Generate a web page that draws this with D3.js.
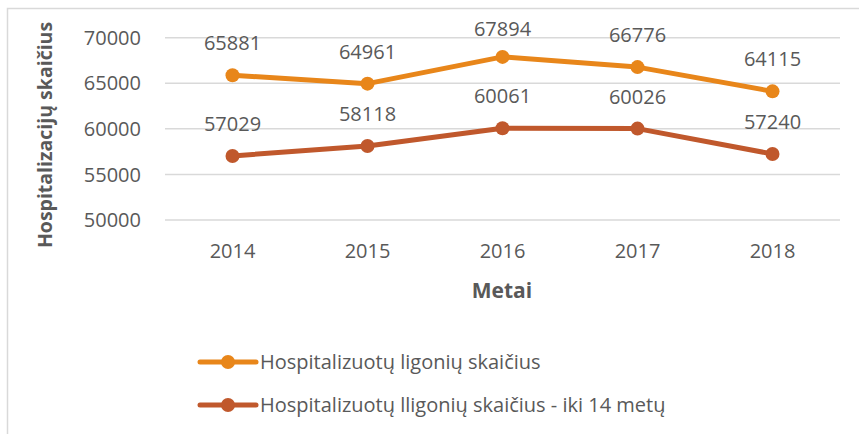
<!DOCTYPE html>
<html lang="en">
<head>
  <meta charset="UTF-8">
  <title>Hospitalizacijų skaičius</title>
  <script src="https://d3js.org/d3.v7.min.js"></script>
  <style>
    body {
      margin: 0;
      background-color: #ffffff;
      font-family: "Open Sans", Arial, sans-serif;
    }
    svg text {
      fill: #595959;
    }
  </style>
</head>
<body>
  <div id="chart"></div>

  <script>
    const years = ["2014", "2015", "2016", "2017", "2018"];
    const hospitalized = [65881, 64961, 67894, 66776, 64115];
    const hospitalizedChildren = [57029, 58118, 60061, 60026, 57240];
    const yTicks = [50000, 55000, 60000, 65000, 70000];
    const seriesNames = ["Hospitalizuotų ligonių skaičius", "Hospitalizuotų lligonių skaičius - iki 14 metų"];
    const seriesColors = ["#E8861A", "#C0582C"];

    const width = 859, height = 434;

    const svg = d3.select("#chart")
      .append("svg")
      .attr("width", width)
      .attr("height", height);

    // chart frame (right and bottom edges are cut off in the original)
    svg.append("rect")
      .attr("x", 7.5)
      .attr("y", 8.5)
      .attr("width", 1000)
      .attr("height", 1000)
      .attr("fill", "none")
      .attr("stroke", "#d9d9d9")
      .attr("stroke-width", 1.5);

    const x = d3.scalePoint().domain(years).range([165, 840]).padding(0.5);
    const y = d3.scaleLinear().domain([50000, 70000]).range([220, 37.7]);

    // gridlines
    svg.append("g")
      .selectAll("line")
      .data(yTicks)
      .enter()
      .append("line")
      .attr("x1", 165)
      .attr("x2", 840)
      .attr("y1", d => y(d))
      .attr("y2", d => y(d))
      .attr("stroke", "#d9d9d9")
      .attr("stroke-width", 1.5);

    // y tick labels
    svg.append("g")
      .selectAll("text")
      .data(yTicks)
      .enter()
      .append("text")
      .attr("x", 141)
      .attr("y", d => y(d))
      .attr("dy", "0.36em")
      .attr("text-anchor", "end")
      .style("font-size", "20px")
      .text(d => d);

    // x tick labels
    svg.append("g")
      .selectAll("text")
      .data(years)
      .enter()
      .append("text")
      .attr("x", d => x(d))
      .attr("y", 258)
      .attr("text-anchor", "middle")
      .style("font-size", "20px")
      .text(d => d);

    // axis titles
    svg.append("text")
      .attr("transform", "translate(52,135) rotate(-90)")
      .attr("text-anchor", "middle")
      .style("font-size", "19.5px")
      .style("font-weight", "bold")
      .text("Hospitalizacijų skaičius");

    svg.append("text")
      .attr("x", 502)
      .attr("y", 298)
      .attr("text-anchor", "middle")
      .style("font-size", "21px")
      .style("font-weight", "bold")
      .text("Metai");

    const line = d3.line()
      .x((d, i) => x(years[i]))
      .y(d => y(d));

    [hospitalized, hospitalizedChildren].forEach((values, s) => {
      const g = svg.append("g");
      g.append("path")
        .datum(values)
        .attr("d", line)
        .attr("fill", "none")
        .attr("stroke", seriesColors[s])
        .attr("stroke-width", 5)
        .attr("stroke-linejoin", "round");

      g.selectAll("circle")
        .data(values)
        .enter()
        .append("circle")
        .attr("cx", (d, i) => x(years[i]))
        .attr("cy", d => y(d))
        .attr("r", 7)
        .attr("fill", seriesColors[s]);

      g.selectAll("text")
        .data(values)
        .enter()
        .append("text")
        .attr("x", (d, i) => x(years[i]))
        .attr("y", d => Math.max(y(d) - 25, 36))
        .attr("text-anchor", "middle")
        .style("font-size", "20px")
        .text(d => d);
    });

    // legend
    const legend = svg.append("g");
    seriesNames.forEach((name, i) => {
      const ly = 362 + i * 43;
      legend.append("line")
        .attr("x1", 200)
        .attr("x2", 256)
        .attr("y1", ly)
        .attr("y2", ly)
        .attr("stroke", seriesColors[i])
        .attr("stroke-width", 5)
        .attr("stroke-linecap", "round");
      legend.append("circle")
        .attr("cx", 228)
        .attr("cy", ly)
        .attr("r", 7)
        .attr("fill", seriesColors[i]);
      legend.append("text")
        .attr("x", 260)
        .attr("y", ly)
        .attr("dy", "0.36em")
        .style("font-size", "20px")
        .text(name);
    });
  </script>
</body>
</html>
